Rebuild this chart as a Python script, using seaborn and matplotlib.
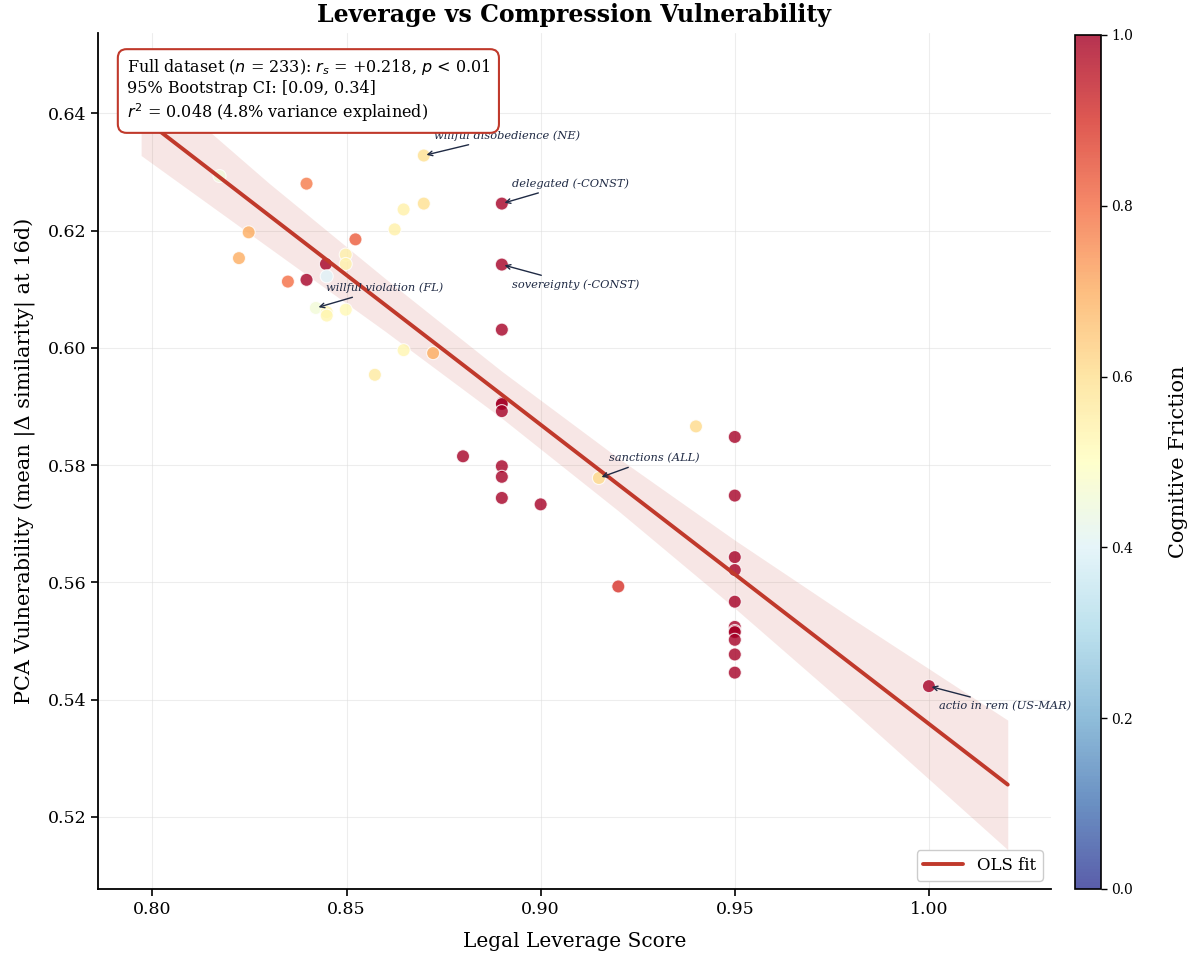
import numpy as np
import pandas as pd
import matplotlib
matplotlib.use("Agg")
import matplotlib.pyplot as plt
import seaborn as sns
from matplotlib.colors import Normalize
from matplotlib.cm import ScalarMappable

# ---------------- data ----------------
leverage = [0.8173, 0.8397, 0.8248, 0.8223, 0.8523, 0.8498, 0.8498, 0.8447, 0.8349, 0.8397,
            0.8449, 0.8421, 0.8449, 0.8449, 0.8498, 0.8647, 0.8699, 0.8624, 0.8647, 0.8723,
            0.8573, 0.8699, 0.89, 0.89, 0.89, 0.89, 0.89, 0.89, 0.88, 0.89,
            0.89, 0.89, 0.90, 0.915, 0.94, 0.95, 0.95, 0.95, 0.95, 0.95,
            0.95, 0.95, 0.95, 0.95, 0.95, 0.95, 1.00, 0.92]
vulnerability = [0.6293, 0.6280, 0.6197, 0.6153, 0.6185, 0.6159, 0.6143, 0.6143, 0.6113, 0.6116,
                 0.6122, 0.6068, 0.6061, 0.6055, 0.6065, 0.6236, 0.6246, 0.6202, 0.5996, 0.5991,
                 0.5954, 0.6328, 0.6246, 0.6142, 0.6031, 0.5906, 0.5904, 0.5892, 0.5815, 0.5798,
                 0.5780, 0.5744, 0.5733, 0.5778, 0.5866, 0.5848, 0.5748, 0.5643, 0.5621, 0.5567,
                 0.5524, 0.5517, 0.5515, 0.5502, 0.5477, 0.5446, 0.5423, 0.5593]
friction = [0.45, 0.78, 0.70, 0.70, 0.83, 0.54, 0.54, 1.0, 0.80, 1.0,
            0.40, 0.46, 0.53, 0.53, 0.52, 0.55, 0.60, 0.55, 0.53, 0.70,
            0.57, 0.60, 1.0, 1.0, 1.0, 1.0, 1.0, 1.0, 1.0, 1.0,
            1.0, 1.0, 1.0, 0.61, 0.61, 1.0, 1.0, 1.0, 1.0, 1.0,
            1.0, 1.0, 1.0, 1.0, 1.0, 1.0, 1.0, 0.90]

fit_x = [0.7971, 1.0203]
fit_y = [0.6394, 0.5255]
band_x = [0.7971, 0.83, 0.86, 0.89, 0.92, 0.95, 0.98, 1.0203]
band_lo = [0.6328, 0.6171, 0.6028, 0.5880, 0.5722, 0.5556, 0.5383, 0.5144]
band_hi = [0.6470, 0.6281, 0.6118, 0.5960, 0.5812, 0.5672, 0.5539, 0.5365]

labels = ["willful disobedience (NE)", "delegated (-CONST)", "sovereignty (-CONST)",
          "willful violation (FL)", "sanctions (ALL)", "actio in rem (US-MAR)"]
label_idx = [21, 22, 23, 11, 33, 46]
label_dy = [20, 20, -20, 20, 20, -20]

# ---------------- style ----------------
sns.set_theme(style="white")
plt.rcParams["font.family"] = ["DejaVu Serif"]
plt.rcParams["mathtext.fontset"] = "dejavusans"
plt.rcParams["text.color"] = "black"
plt.rcParams["axes.labelcolor"] = "black"
plt.rcParams["xtick.color"] = "black"
plt.rcParams["ytick.color"] = "black"

df = pd.DataFrame({"leverage": leverage, "vulnerability": vulnerability, "friction": friction})

fig = plt.figure(figsize=(11.94, 9.56), dpi=100)
ax = fig.add_axes([0.0821, 0.0701, 0.7980, 0.8954])
cax = fig.add_axes([0.9003, 0.0701, 0.0218, 0.8933])

line_color = "#c0392b"
ax.fill_between(band_x, band_lo, band_hi, color=line_color, alpha=0.12, linewidth=0, zorder=1)

sns.scatterplot(data=df, x="leverage", y="vulnerability", hue="friction",
                palette="RdYlBu_r", hue_norm=(0, 1), s=88, alpha=0.8,
                edgecolor="white", linewidth=0.8, legend=False, ax=ax, zorder=2)

sns.lineplot(x=fit_x, y=fit_y, color=line_color, linewidth=2.8, ax=ax,
             label="OLS fit", zorder=3)

ann_color = "#1f2a44"
for lab, i, dy in zip(labels, label_idx, label_dy):
    ax.annotate(lab, xy=(leverage[i], vulnerability[i]), xytext=(10, dy),
                textcoords="offset pixels", ha="left", va="center",
                fontsize=8.2, style="italic", color=ann_color,
                arrowprops=dict(arrowstyle="->", color=ann_color, lw=1.0))

ax.text(0.030, 0.972,
        "Full dataset ($n$ = 233): $r_s$ = +0.218, $p$ < 0.01\n"
        "95% Bootstrap CI: [0.09, 0.34]\n"
        "$r^2$ = 0.048 (4.8% variance explained)",
        transform=ax.transAxes, ha="left", va="top", fontsize=11.5, linespacing=1.25,
        bbox=dict(boxstyle="round,pad=0.55", facecolor="white", edgecolor=line_color, linewidth=1.5),
        zorder=5)

ax.set_xlim(0.7860, 1.0314)
ax.set_ylim(0.5077, 0.6537)
ax.set_xticks([0.80, 0.85, 0.90, 0.95, 1.00])
ax.set_xticklabels(["0.80", "0.85", "0.90", "0.95", "1.00"])
ax.set_yticks([0.52, 0.54, 0.56, 0.58, 0.60, 0.62, 0.64])
ax.set_yticklabels(["0.52", "0.54", "0.56", "0.58", "0.60", "0.62", "0.64"])
ax.tick_params(axis="both", labelsize=12.5, length=5, width=1.2, direction="out",
               bottom=True, left=True, colors="black")
ax.grid(True, color="#dddddd", alpha=0.5, linewidth=0.8)
ax.set_axisbelow(True)
sns.despine(ax=ax)
for sp in ["left", "bottom"]:
    ax.spines[sp].set_color("black")
    ax.spines[sp].set_linewidth(1.3)

ax.set_xlabel("Legal Leverage Score", fontsize=14.5, labelpad=10)
ax.set_ylabel("PCA Vulnerability (mean |Δ similarity| at 16d)", fontsize=15, labelpad=8)
ax.set_title("Leverage vs Compression Vulnerability", fontsize=17, fontweight="bold", pad=8)

leg = ax.legend(loc="lower right", fontsize=12, frameon=True, fancybox=True,
                edgecolor="#cccccc", framealpha=1.0, handlelength=2.4)

sm = ScalarMappable(norm=Normalize(0, 1), cmap="RdYlBu_r")
cb = fig.colorbar(sm, cax=cax, alpha=0.8)
cb.set_ticks([0.0, 0.2, 0.4, 0.6, 0.8, 1.0])
cb.ax.tick_params(labelsize=10, length=4, width=1, colors="black")
cb.set_label("Cognitive Friction", fontsize=15, labelpad=26)
cb.outline.set_edgecolor("black")
cb.outline.set_linewidth(1.2)

fig.savefig("out.png", dpi=100)
